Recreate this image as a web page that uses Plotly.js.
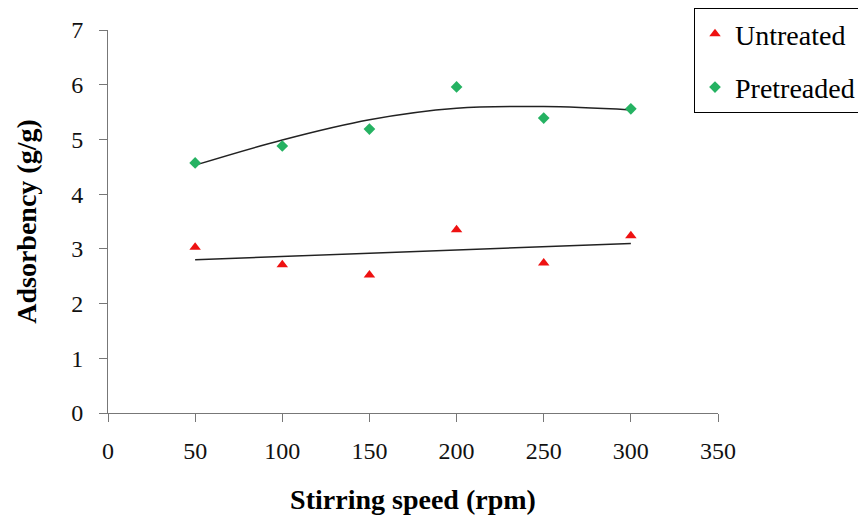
<!DOCTYPE html>
<html><head><meta charset="utf-8">
<script src="https://cdn.plot.ly/plotly-3.0.1.min.js"></script>
<style>body{margin:0;padding:0;background:#fff}#chart{width:858px;height:521px}</style>
</head><body><div id="chart"></div>
<script>
const speeds = [50, 100, 150, 200, 250, 300];
const untreated = [3.03, 2.71, 2.52, 3.35, 2.74, 3.24];
const pretreated = [4.57, 4.88, 5.19, 5.96, 5.39, 5.56];
const untreatedTrendX = [50, 300];
const untreatedTrend = [2.80, 3.10];
const pretreatedTrend = [4.53, 4.99, 5.36, 5.57, 5.60, 5.54];
const xTicks = [0, 50, 100, 150, 200, 250, 300, 350];
const yTicks = [0, 1, 2, 3, 4, 5, 6, 7];

const serif = "Liberation Serif, Times New Roman, serif";
const traces = [
  {x: untreatedTrendX, y: untreatedTrend, mode: 'lines', line: {color: '#222', width: 1.5}, showlegend: false, hoverinfo: 'skip'},
  {x: speeds, y: pretreatedTrend, mode: 'lines', line: {color: '#222', width: 1.5, shape: 'spline'}, showlegend: false, hoverinfo: 'skip'},
  {x: speeds, y: untreated, mode: 'markers', name: 'Untreated', legendgroup: 'a',
   marker: {symbol: 'triangle-up', color: '#ee1111', size: 10}},
  {x: speeds, y: pretreated, mode: 'markers', name: 'Pretreaded', legendgroup: 'b',
   marker: {symbol: 'diamond', color: '#25b262', size: 9}}
];
const layout = {
  width: 858, height: 521,
  margin: {l: 108, r: 140, t: 30, b: 108, autoexpand: false},
  paper_bgcolor: '#fff', plot_bgcolor: '#fff',
  font: {family: serif, color: '#111', size: 24},
  xaxis: {range: [0, 350], tickvals: xTicks, ticktext: xTicks.map(String),
    showgrid: false, zeroline: false, showline: true, linecolor: '#777', linewidth: 1,
    ticks: 'outside', ticklen: 8, tickcolor: '#777', ticklabelstandoff: 8,
    tickfont: {family: serif, size: 24, color: '#111'}, automargin: false,
    title: {text: 'Stirring speed (rpm)', font: {family: serif, size: 28, weight: 'bold', color: '#000'}, standoff: 26}},
  yaxis: {range: [0, 7], tickvals: yTicks, ticktext: yTicks.map(String),
    showgrid: false, zeroline: false, showline: true, linecolor: '#777', linewidth: 1,
    ticks: 'outside', ticklen: 8, tickcolor: '#777', ticklabelstandoff: 11,
    tickfont: {family: serif, size: 24, color: '#111'}, automargin: false,
    title: {text: 'Adsorbency (g/g)', font: {family: serif, size: 28, weight: 'bold', color: '#000'}, standoff: 26}},
  legend: {xref: 'container', yref: 'container', x: 694/858, y: 1 - 8/521, xanchor: 'left', yanchor: 'top',
    bordercolor: '#000', borderwidth: 1, bgcolor: '#fff',
    font: {family: serif, size: 28, color: '#000'},
    traceorder: 'grouped', tracegroupgap: 14, itemwidth: 30},
  showlegend: true
};
Plotly.newPlot('chart', traces, layout, {displayModeBar: false, staticPlot: true});
</script></body></html>
